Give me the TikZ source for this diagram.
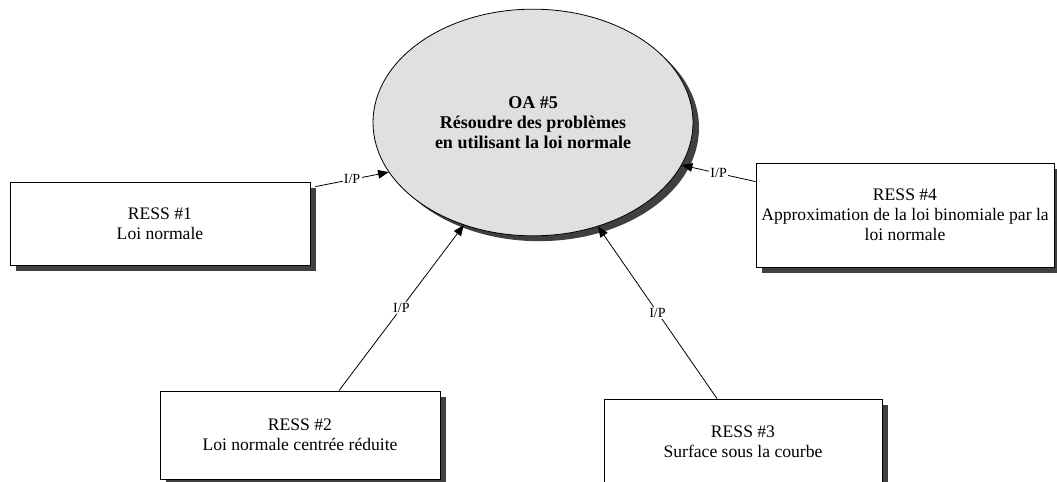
\documentclass[tikz,border=0pt]{standalone}
\usepackage{fontspec}
\setmainfont{Liberation Serif}
\usetikzlibrary{shadows,calc,arrows.meta,shapes.geometric}
\definecolor{shadowgray}{HTML}{404040}
\definecolor{ellgray}{HTML}{E0E0E0}
\tikzset{
  ressbox/.style={draw=black, line width=0.6pt, fill=white, rectangle, inner sep=0pt, align=center,
    font=\fontsize{13.2}{15}\selectfont,
    drop shadow={shadow xshift=4.5pt, shadow yshift=-4.5pt, fill=shadowgray, opacity=1}},
  oaell/.style={draw=black, line width=0.6pt, fill=ellgray, ellipse, inner sep=0pt, align=center,
    font=\fontsize{13.5}{15}\selectfont\bfseries,
    drop shadow={shadow xshift=4.5pt, shadow yshift=-4pt, fill=shadowgray, opacity=1}},
  iplink/.style={line width=0.6pt, -{Triangle[length=8pt,width=6.5pt]}},
  iplabel/.style={fill=white, inner sep=1pt, font=\fontsize{10.5}{12}\selectfont}
}
\begin{document}
\begin{tikzpicture}[x=0.75pt,y=-0.75pt]
\clip (0,0) rectangle (1057,482);
\fill[white] (0,0) rectangle (1057,482);
\node[oaell, minimum width=240pt, minimum height=170pt] (e) at (533,122.5)
  {OA \#5\\Résoudre des problèmes\\en utilisant la loi normale};
\node[ressbox, minimum width=225pt, minimum height=62.25pt] (b1) at (160,223.5)
  {RESS \#1\\Loi normale};
\node[ressbox, minimum width=210pt, minimum height=66pt] (b2) at (300,435)
  {RESS \#2\\Loi normale centrée réduite};
\node[ressbox, minimum width=208.5pt, minimum height=64.5pt] (b3) at (743,442)
  {RESS \#3\\Surface sous la courbe};
\node[ressbox, minimum width=223.5pt, minimum height=78pt] (b4) at (905,215)
  {RESS \#4\\Approximation de la loi binomiale par la\\loi normale};
\draw[iplink] ($(b1.north east)+(5,5)$) -- node[iplabel]{I/P} (e.199);
\draw[iplink] ($(b2.north)+(39,0)$) -- node[iplabel]{I/P} (e.236);
\draw[iplink] ($(b3.north)+(-26,0)$) -- node[iplabel]{I/P} (e.302);
\draw[iplink] ($(b4.north west)+(0,19)$) -- node[iplabel]{I/P} (e.344);
\end{tikzpicture}
\end{document}
